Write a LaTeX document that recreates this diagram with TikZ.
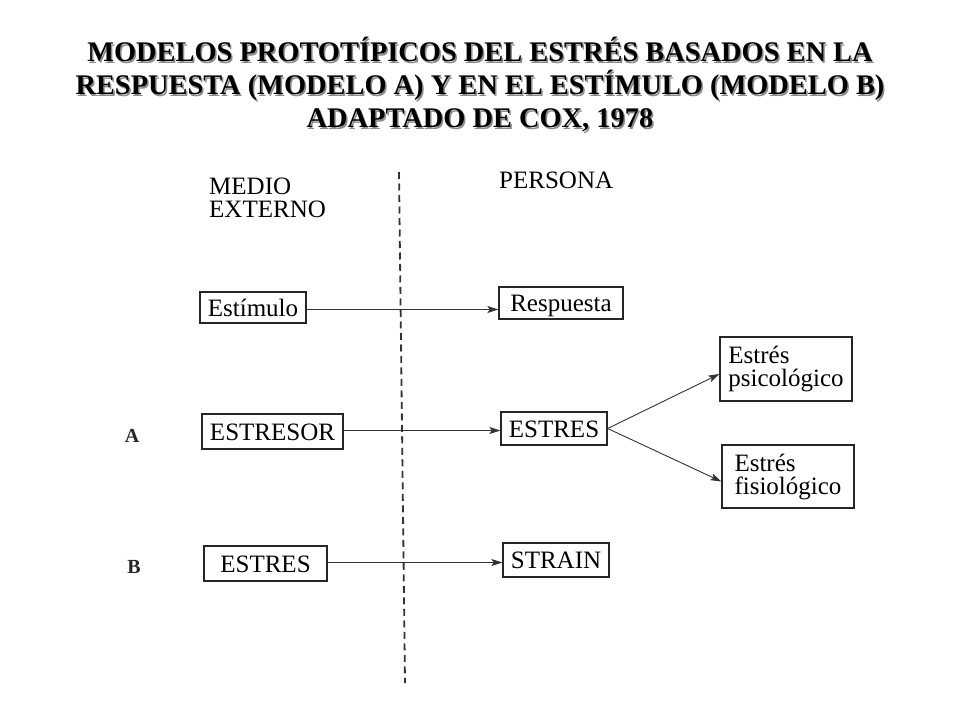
\documentclass[tikz,border=0pt]{standalone}
\usepackage{fontspec}
\setmainfont{Liberation Serif}
\usetikzlibrary{arrows.meta}
\begin{document}
\begin{tikzpicture}[x=1pt,y=-1pt,
  box/.style={draw=black!85,line width=1.3pt,rectangle,inner sep=0pt,font=\fontsize{25}{23}\selectfont,text=black,text height=17pt,text depth=0pt},
  tbox/.style={draw=black!85,line width=1.3pt,rectangle,inner sep=0pt,font=\fontsize{25}{23}\selectfont,text=black,align=left},
  arr/.style={draw=black!80,line width=0.9pt,-{Stealth[length=11pt,width=7pt,inset=2.5pt]}},
  ttl/.style={font=\fontsize{28.4}{33}\selectfont\bfseries,align=center},
  lbl/.style={font=\fontsize{25}{25}\selectfont,text=black,anchor=base west,inner sep=0pt},
  ab/.style={font=\fontsize{20}{20}\selectfont\bfseries,text=black!85,inner sep=0pt}]
\useasboundingbox[fill=white] (0,0) rectangle (960,720);
% title with shadow
\node[ttl,text=black!45] (titleshadow) at (481.5,86.5) {MODELOS PROTOT\'IPICOS DEL ESTR\'ES BASADOS EN LA\\RESPUESTA (MODELO A) Y EN EL EST\'IMULO (MODELO B)\\ADAPTADO DE COX, 1978};
\node[ttl] (title) at (480,85) {MODELOS PROTOT\'IPICOS DEL ESTR\'ES BASADOS EN LA\\RESPUESTA (MODELO A) Y EN EL EST\'IMULO (MODELO B)\\ADAPTADO DE COX, 1978};
% dashed divider
\coordinate (dtop) at (399,172);
\coordinate (dbot) at (405,683);
\draw[black!80,line width=1.8pt,dash pattern=on 7pt off 4.5pt] (dtop) -- (dbot);
% headers
\node[lbl] (medio) at (209,194) {MEDIO};
\node[lbl] (externo) at (209,217) {EXTERNO};
\node[lbl] (persona) at (499,188) {PERSONA};
% row labels
\node[ab] (A) at (132,436) {A};
\node[ab] (B) at (134,567) {B};
% boxes
\node[box,minimum width=106pt,minimum height=31pt] (estimulo) at (253,307.5) {Est\'imulo};
\node[box,minimum width=124pt,minimum height=32pt] (respuesta) at (561,303) {Respuesta};
\node[box,minimum width=141pt,minimum height=35pt] (estresor) at (272.5,431.5) {ESTRESOR};
\node[box,minimum width=106pt,minimum height=33pt] (estresA) at (554,428.5) {ESTRES};
\node[box,minimum width=123pt,minimum height=35pt] (estresB) at (265.5,563.5) {ESTRES};
\node[box,minimum width=106pt,minimum height=34pt] (strain) at (556,560) {STRAIN};
\node[tbox,minimum width=132pt,minimum height=64pt] (psico) at (786,369) {Estr\'es\\psicol\'ogico};
\node[tbox,minimum width=132pt,minimum height=63pt] (fisio) at (788,476.5) {Estr\'es\\fisiol\'ogico};
% arrows
\draw[arr] ([yshift=-2pt]estimulo.east) -- ([yshift=-2pt]estimulo.east -| respuesta.west);
\draw[arr] ([yshift=1pt]estresor.east) -- ([yshift=1pt]estresor.east -| estresA.west);
\draw[arr] ([yshift=1pt]estresB.east) -- ([yshift=1pt]estresB.east -| strain.west);
\draw[arr] (estresA.east) -- ([yshift=-5pt]psico.west);
\draw[arr] (estresA.east) -- ([yshift=-5pt]fisio.west);
\end{tikzpicture}
\end{document}
